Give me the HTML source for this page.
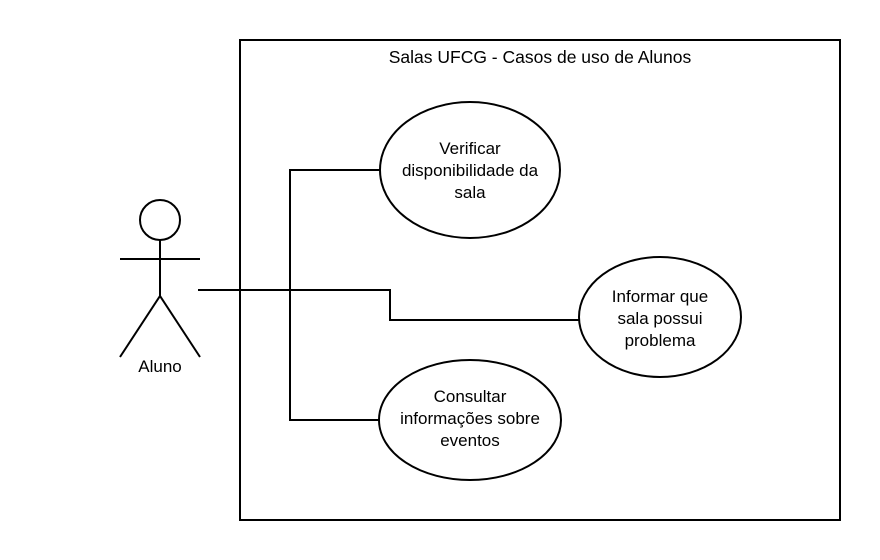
<!DOCTYPE html>
<html><head><meta charset="utf-8"><style>html,body{margin:0;padding:0;background:#fff}svg{display:block}</style></head>
<body>
<svg width="880" height="560" viewBox="0 0 880 560" xmlns="http://www.w3.org/2000/svg" font-family="'Liberation Sans', sans-serif" font-size="17" fill="none" stroke="#000" stroke-width="2">
<rect x="240" y="40" width="600" height="480"/>
<text x="540" y="63" text-anchor="middle" fill="#000" stroke="none" font-size="17.5">Salas UFCG - Casos de uso de Alunos</text>
<polyline points="198,290 390,290 390,320 580,320"/>
<polyline points="380,170 290,170 290,420 380,420"/>
<ellipse cx="470" cy="170" rx="90" ry="68" fill="#fff"/>
<ellipse cx="660" cy="317" rx="81" ry="60" fill="#fff"/>
<ellipse cx="470" cy="420" rx="91" ry="60" fill="#fff"/>
<g fill="#000" stroke="none" text-anchor="middle">
<text x="470" y="154">Verificar</text>
<text x="470" y="176">disponibilidade da</text>
<text x="470" y="198">sala</text>
<text x="660" y="302">Informar que</text>
<text x="660" y="324">sala possui</text>
<text x="660" y="346">problema</text>
<text x="470" y="402">Consultar</text>
<text x="470" y="424">informações sobre</text>
<text x="470" y="446">eventos</text>
<text x="160" y="372">Aluno</text>
</g>
<circle cx="160" cy="220" r="20"/>
<line x1="160" y1="240" x2="160" y2="296"/>
<line x1="120" y1="259" x2="200" y2="259"/>
<polyline points="120,357 160,296 200,357"/>
</svg>
</body></html>
